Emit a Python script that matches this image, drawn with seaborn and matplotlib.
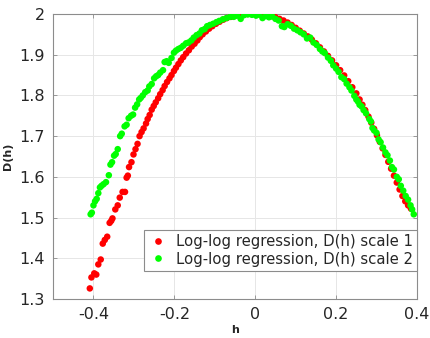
import matplotlib
matplotlib.use('Agg')
import matplotlib.pyplot as plt
import seaborn as sns
import pandas as pd

# Series 1 (red): Log-log regression, D(h) scale 1
h_scale1 = [-0.409, -0.405, -0.398, -0.393, -0.388, -0.382, -0.377, -0.372, -0.366, -0.360,
            -0.356, -0.353, -0.346, -0.340, -0.335, -0.328, -0.322, -0.318, -0.315, -0.312,
            -0.306, -0.301, -0.296, -0.291, -0.286, -0.281, -0.276, -0.270, -0.266, -0.261,
            -0.256, -0.251, -0.246, -0.240, -0.235, -0.229, -0.224, -0.218, -0.212, -0.207,
            -0.201, -0.196, -0.190, -0.184, -0.178, -0.171, -0.164, -0.157, -0.150, -0.143,
            -0.137, -0.130, -0.122, -0.114, -0.106, -0.097, -0.088, -0.079, -0.070, -0.060,
            -0.050, -0.040, -0.030, -0.020, -0.010, 0.000, 0.010, 0.020, 0.030, 0.040,
            0.050, 0.060, 0.070, 0.080, 0.090, 0.100, 0.110, 0.120, 0.130, 0.140,
            0.150, 0.160, 0.170, 0.180, 0.190, 0.200, 0.210, 0.220, 0.230, 0.240,
            0.250, 0.258, 0.265, 0.272, 0.280, 0.287, 0.294, 0.301, 0.308, 0.315,
            0.322, 0.329, 0.336, 0.343, 0.350, 0.357, 0.364, 0.371, 0.378, 0.385]
d_scale1 = [1.326, 1.353, 1.363, 1.360, 1.385, 1.397, 1.436, 1.445, 1.453, 1.487,
            1.492, 1.498, 1.520, 1.530, 1.549, 1.563, 1.563, 1.598, 1.603, 1.624,
            1.636, 1.655, 1.668, 1.681, 1.700, 1.710, 1.719, 1.731, 1.742, 1.752,
            1.765, 1.774, 1.783, 1.793, 1.803, 1.813, 1.823, 1.833, 1.842, 1.850,
            1.860, 1.868, 1.877, 1.886, 1.894, 1.903, 1.911, 1.920, 1.927, 1.935,
            1.943, 1.950, 1.957, 1.964, 1.970, 1.976, 1.981, 1.986, 1.990, 1.993,
            1.996, 1.998, 1.999, 2.000, 2.000, 2.000, 1.999, 1.998, 1.997, 1.995,
            1.992, 1.988, 1.984, 1.979, 1.973, 1.966, 1.959, 1.952, 1.945, 1.937,
            1.928, 1.918, 1.908, 1.897, 1.886, 1.874, 1.862, 1.849, 1.835, 1.820,
            1.805, 1.790, 1.777, 1.764, 1.748, 1.733, 1.718, 1.702, 1.686, 1.670,
            1.654, 1.637, 1.620, 1.603, 1.586, 1.569, 1.553, 1.540, 1.530, 1.522]

# Series 2 (green): Log-log regression, D(h) scale 2
h_scale2 = [-0.407, -0.404, -0.400, -0.396, -0.392, -0.388, -0.384, -0.380, -0.375, -0.369,
            -0.362, -0.358, -0.354, -0.349, -0.345, -0.340, -0.334, -0.330, -0.323, -0.318,
            -0.313, -0.307, -0.302, -0.297, -0.292, -0.287, -0.283, -0.278, -0.272, -0.266,
            -0.262, -0.256, -0.250, -0.245, -0.240, -0.235, -0.228, -0.224, -0.219, -0.214,
            -0.207, -0.201, -0.196, -0.190, -0.184, -0.178, -0.171, -0.165, -0.158, -0.152,
            -0.145, -0.138, -0.132, -0.125, -0.119, -0.112, -0.104, -0.096, -0.089, -0.080,
            -0.071, -0.062, -0.053, -0.045, -0.036, -0.028, -0.018, -0.008, 0.002, 0.010,
            0.018, 0.026, 0.034, 0.042, 0.050, 0.058, 0.066, 0.072, 0.080, 0.088,
            0.096, 0.104, 0.112, 0.120, 0.128, 0.136, 0.144, 0.152, 0.160, 0.166,
            0.172, 0.180, 0.187, 0.193, 0.200, 0.206, 0.213, 0.220, 0.226, 0.233,
            0.238, 0.245, 0.250, 0.254, 0.258, 0.263, 0.268, 0.274, 0.282, 0.286,
            0.290, 0.294, 0.300, 0.305, 0.310, 0.316, 0.322, 0.327, 0.333, 0.338,
            0.343, 0.350, 0.355, 0.360, 0.366, 0.372, 0.378, 0.384, 0.388, 0.392]
d_scale2 = [1.508, 1.512, 1.530, 1.540, 1.546, 1.560, 1.574, 1.578, 1.582, 1.587,
            1.604, 1.630, 1.636, 1.652, 1.656, 1.668, 1.700, 1.706, 1.724, 1.728,
            1.744, 1.750, 1.753, 1.770, 1.778, 1.790, 1.794, 1.800, 1.808, 1.812,
            1.822, 1.828, 1.842, 1.847, 1.850, 1.856, 1.862, 1.882, 1.884, 1.880,
            1.892, 1.905, 1.910, 1.914, 1.917, 1.922, 1.928, 1.930, 1.935, 1.942,
            1.948, 1.952, 1.960, 1.963, 1.970, 1.973, 1.976, 1.980, 1.983, 1.987,
            1.990, 1.993, 1.993, 1.996, 1.988, 1.997, 1.999, 1.998, 1.996, 1.999,
            1.990, 1.995, 1.992, 1.994, 1.988, 1.984, 1.970, 1.968, 1.975, 1.971,
            1.964, 1.960, 1.955, 1.950, 1.940, 1.942, 1.930, 1.924, 1.914, 1.908,
            1.904, 1.893, 1.885, 1.874, 1.866, 1.858, 1.845, 1.840, 1.829, 1.820,
            1.812, 1.799, 1.790, 1.785, 1.777, 1.773, 1.764, 1.756, 1.742, 1.736,
            1.720, 1.714, 1.708, 1.692, 1.685, 1.672, 1.660, 1.653, 1.640, 1.624,
            1.618, 1.600, 1.594, 1.578, 1.566, 1.553, 1.544, 1.530, 1.520, 1.508]

labels = ['Log-log regression, D(h) scale 1', 'Log-log regression, D(h) scale 2']
colors = ['#ff0000', '#00ff00']
x_ticks = [-0.4, -0.2, 0, 0.2, 0.4]
x_tick_labels = ['-0.4', '-0.2', '0', '0.2', '0.4']
y_ticks = [1.3, 1.4, 1.5, 1.6, 1.7, 1.8, 1.9, 2.0]
y_tick_labels = ['1.3', '1.4', '1.5', '1.6', '1.7', '1.8', '1.9', '2']

df = pd.concat([
    pd.DataFrame({'h': h_scale1, 'D': d_scale1, 'series': labels[0]}),
    pd.DataFrame({'h': h_scale2, 'D': d_scale2, 'series': labels[1]}),
], ignore_index=True)

sns.set_theme(style='white')
plt.rcParams['font.family'] = ['DejaVu Sans']

fig = plt.figure(figsize=(4.31, 3.38), dpi=100)
ax = fig.add_axes([0.123, 0.1154, 0.8445, 0.8432])

sns.scatterplot(data=df, x='h', y='D', hue='series', palette=dict(zip(labels, colors)),
                s=22, linewidth=0, edgecolor='none', ax=ax, legend=False, zorder=3)

ax.set_xlim(-0.5, 0.4)
ax.set_ylim(1.3, 2.0)
ax.set_xticks(x_ticks)
ax.set_xticklabels(x_tick_labels)
ax.set_yticks(y_ticks)
ax.set_yticklabels(y_tick_labels)
ax.grid(True, color='#e6e6e6', linewidth=0.7, zorder=0)
ax.set_axisbelow(True)
for sp in ax.spines.values():
    sp.set_color('#8c8c8c')
    sp.set_linewidth(0.8)
ax.tick_params(axis='both', which='both', direction='in', length=3, width=0.6,
               color='#8c8c8c', labelsize=11.5, labelcolor='#262626',
               top=True, right=True, bottom=True, left=True, pad=6)
ax.set_xlabel('h', fontsize=8, fontweight='bold', color='#262626', labelpad=2)
ax.set_ylabel('D(h)', fontsize=8, fontweight='bold', color='#262626', labelpad=4)

from matplotlib.lines import Line2D
handles = [Line2D([], [], marker='o', linestyle='none', markersize=4.8,
                  markerfacecolor=c, markeredgecolor='none') for c in colors]
leg = ax.legend(handles, labels, loc='lower right', bbox_to_anchor=(1.0, 0.098),
                borderaxespad=0, fontsize=10.7, frameon=True, fancybox=False,
                handlelength=1.2, handletextpad=0.6, borderpad=0.3, labelspacing=0.15,
                edgecolor='#8c8c8c', framealpha=1)
leg.get_frame().set_linewidth(0.8)
for t in leg.get_texts():
    t.set_color('#262626')

fig.savefig('out.png', dpi=100)
